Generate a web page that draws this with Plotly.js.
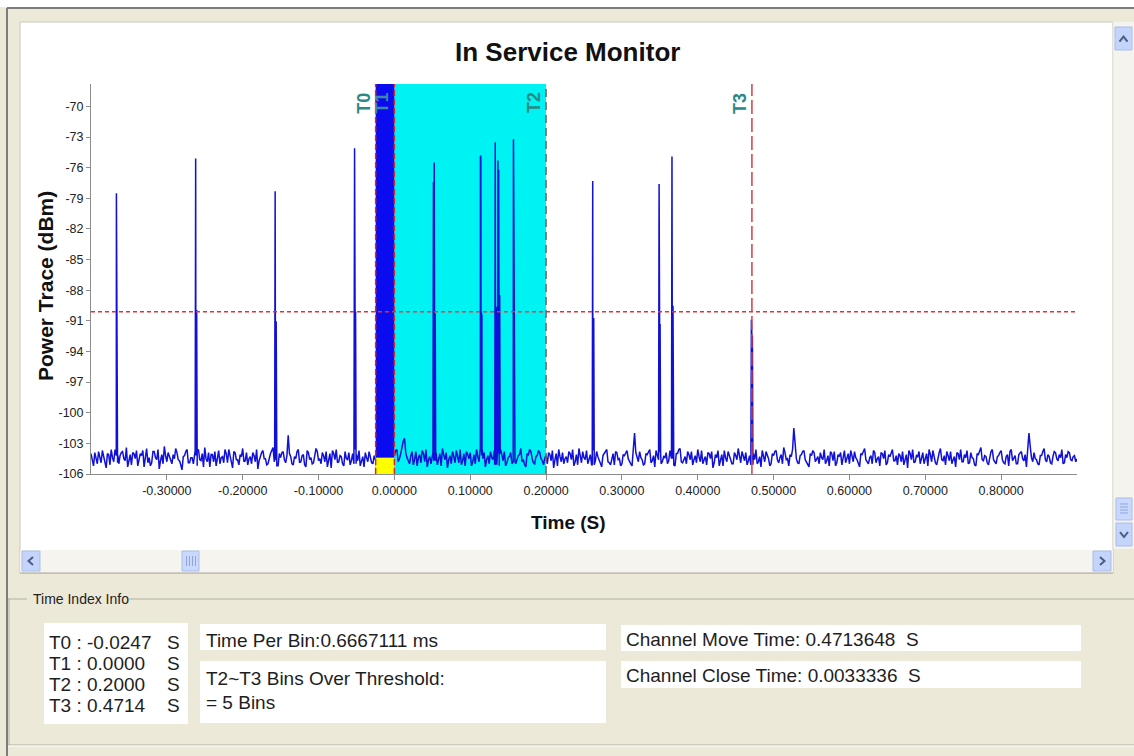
<!DOCTYPE html>
<html><head><meta charset="utf-8">
<script src="https://cdn.plot.ly/plotly-3.0.1.min.js"></script>
<style>html,body{margin:0;padding:0;background:#ece9d8;overflow:hidden}</style>
</head><body><div id="chart" style="width:1134px;height:756px"></div>
<script>
// ---------------- data ----------------
const binTime = 0.0006667111;          // s per bin
const noiseStart = -0.4;               // s
const noiseStep = 0.0033333;           // s between noise samples (5 bins)
const noiseDbm = [
-104.0,-105.2,-104.6,-103.8,-104.9,-104.3,-105.4,-104.1,-103.6,-104.8,-104.2,-105.0,-103.9,-104.5,-103.4,-104.7,-105.1,-104.0,-103.7,-104.6,
-104.2,-105.3,-103.5,-104.4,-104.9,-103.8,-104.6,-105.5,-104.1,-103.3,-104.8,-104.3,-105.0,-104.5,-103.9,-104.7,-105.6,-104.2,-103.6,-104.9,
-104.4,-103.7,-105.2,-104.6,-104.0,-103.4,-104.8,-105.3,-104.1,-103.8,-104.5,-105.0,-104.3,-103.6,-104.9,-104.2,-105.4,-103.9,-104.6,-104.1,
-103.5,-104.7,-105.1,-104.3,-103.9,-104.8,-105.5,-104.2,-103.7,-104.5,-105.0,-104.0,-103.4,-104.6,-105.2,-104.4,-103.8,-104.9,-102.2,-104.3,
-105.1,-104.5,-103.6,-104.8,-104.1,-105.3,-103.9,-104.4,-104.9,-103.5,-104.7,-105.0,-104.2,-103.8,-104.6,-105.4,-104.0,-103.6,-104.8,-104.3,
-105.2,-104.5,-103.9,-104.7,-105.0,-104.1,-103.7,-104.6,-105.3,-104.4,-103.8,-104.9,-104.2,-104.6,-104.9,-104.3,-104.7,-104.1,-104.8,-104.4,
-104.2,-103.6,-104.5,-103.2,-102.5,-104.4,-105.0,-103.8,-104.6,-105.2,-104.1,-103.7,-104.8,-105.3,-104.3,-103.9,-104.7,-105.1,-104.0,-103.5,
-104.6,-105.4,-104.2,-103.8,-104.9,-104.4,-103.6,-104.7,-105.2,-104.1,-103.9,-104.8,-105.0,-104.3,-103.7,-104.5,-105.3,-104.2,-103.8,-104.6,
-105.1,-104.0,-103.6,-104.7,-105.2,-104.4,-103.9,-104.8,-105.0,-104.2,-103.5,-104.6,-105.3,-104.1,-103.8,-104.9,-104.3,-103.7,-104.5,-105.1,
-104.2,-103.9,-104.7,-105.4,-104.0,-103.6,-104.8,-105.0,-104.3,-103.8,-104.6,-105.2,-104.1,-103.5,-104.9,-104.4,-103.7,-104.6,-105.1,-104.2,
-103.8,-104.7,-105.3,-104.0,-103.6,-104.9,-104.4,-105.1,-103.9,-104.5,-105.0,-104.2,-103.7,-104.8,-105.2,-102.0,-104.3,-103.8,-104.6,-105.0,
-104.1,-103.6,-104.7,-105.3,-104.2,-103.9,-104.8,-104.4,-105.0,-103.7,-104.5,-105.2,-104.0,-103.5,-104.9,-104.3,-103.8,-104.6,-105.1,-104.2,
-103.6,-104.8,-105.0,-104.3,-103.9,-104.5,-105.4,-104.1,-103.7,-104.7,-105.2,-104.4,-103.8,-104.6,-105.0,-104.2,-103.5,-104.9,-104.3,-103.9,
-104.7,-105.1,-104.0,-103.6,-104.8,-105.3,-104.4,-103.8,-104.5,-105.0,-104.2,-103.7,-104.9,-104.1,-103.4,-104.6,-105.2,-104.3,-101.5,-104.5,
-105.0,-104.1,-103.7,-104.8,-105.3,-104.2,-103.9,-104.6,-105.0,-104.4,-103.6,-104.7,-105.2,-104.0,-103.8,-104.9,-104.3,-105.1,-103.7,-104.5,
-105.0,-104.2,-103.8,-104.6,-105.3,-104.1,-103.5,-104.8,-104.4,-105.0,-103.9,-104.5,-105.2,-104.0,-103.7,-104.9,-104.3,-103.6,-104.7,-105.1,
-104.2,-103.8,-104.6,-105.4,-104.0,-103.6,-104.8,-104.3,-105.0,-103.9,-104.5,-105.2,-104.1,-103.7,-104.9,-104.4,-103.5,-104.7,-105.1,-104.2,
-103.8,-104.6,-105.3,-104.0,-103.6,-104.8,-104.4,-105.0,-103.9,-104.5,-105.2,-104.1,-103.4,-104.7,-104.3,-105.1,-103.8,-104.6,-105.0,-104.2,
-103.7,-104.9,-104.3,-105.2,-103.6,-104.5,-105.0,-104.1,-103.8,-104.7,-105.3,-102.0,-104.4,-103.9,-104.6,-105.1,-104.2,-103.5,-104.8,-104.3,
-105.0,-103.8,-104.5,-104.1,-103.6,-104.9,-104.4,-103.9,-104.7,-104.2,-104.5
];
// samples half-way between the ones above
const noiseDbmMid = [
-104.6,-103.9,-105.0,-104.3,-103.7,-104.8,-104.0,-105.1,-104.4,-103.6,-104.9,-104.2,-103.8,-104.7,-105.3,-104.1,-103.9,-104.5,-105.2,-104.0,
-103.7,-104.6,-104.9,-105.2,-103.8,-104.4,-103.6,-104.7,-105.0,-104.2,-103.9,-104.8,-104.1,-103.5,-104.6,-105.1,-104.3,-103.8,-104.9,-104.4,
-105.0,-104.2,-103.6,-104.7,-105.3,-104.5,-103.9,-104.1,-104.8,-105.2,-103.7,-104.4,-104.9,-104.0,-103.6,-104.7,-103.8,-104.6,-105.1,-104.3,
-104.8,-103.9,-104.5,-105.0,-104.2,-103.6,-104.7,-103.9,-104.5,-105.1,-104.3,-103.7,-104.8,-105.2,-104.0,-103.9,-104.6,-104.2,-104.0,-105.0,
-104.3,-103.8,-104.9,-104.2,-105.1,-103.7,-104.6,-105.0,-104.1,-103.8,-104.5,-103.9,-104.8,-105.3,-104.0,-103.7,-104.6,-104.9,-104.2,-105.0,
-103.8,-104.6,-105.1,-104.0,-103.6,-104.7,-105.2,-104.3,-103.9,-104.8,-104.4,-105.0,-104.6,-104.4,-104.7,-104.5,-104.2,-104.6,-104.5,-104.0,
-103.7,-104.8,-104.0,-102.8,-103.9,-104.7,-104.2,-105.1,-103.8,-104.4,-104.9,-104.0,-103.6,-104.6,-105.0,-104.2,-103.9,-104.4,-105.2,-104.1,
-103.9,-104.6,-105.0,-104.3,-103.7,-104.9,-105.1,-104.0,-103.8,-104.5,-105.2,-104.1,-103.6,-104.8,-104.2,-103.9,-104.6,-105.0,-104.4,-103.7,
-104.5,-105.2,-104.1,-103.8,-104.9,-104.3,-105.0,-103.7,-104.6,-104.1,-104.8,-105.1,-104.0,-103.6,-104.5,-105.0,-104.2,-103.9,-104.7,-104.4,
-105.0,-104.1,-103.7,-104.6,-105.2,-104.3,-103.9,-104.5,-104.9,-104.0,-103.6,-104.8,-105.1,-104.2,-103.8,-104.6,-105.0,-104.1,-103.7,-104.7,
-104.3,-105.0,-104.2,-103.7,-104.8,-105.1,-104.0,-103.8,-104.6,-105.2,-104.1,-103.9,-104.5,-105.0,-103.6,-103.9,-104.8,-104.4,-105.1,-104.0,
-103.8,-104.9,-104.2,-103.7,-104.6,-105.0,-104.3,-103.9,-104.7,-104.2,-105.1,-104.0,-103.6,-104.8,-104.5,-105.0,-104.1,-103.8,-104.6,-104.9,
-104.3,-103.7,-104.6,-105.1,-104.0,-103.8,-104.9,-104.4,-105.2,-104.1,-103.7,-104.8,-104.3,-105.0,-103.9,-104.6,-104.2,-103.8,-104.7,-105.1,
-104.2,-103.9,-104.6,-105.0,-104.3,-103.7,-104.8,-104.1,-105.2,-104.0,-103.8,-104.6,-104.4,-105.0,-103.9,-104.5,-104.1,-103.6,-103.0,-104.9,
-104.2,-103.8,-104.6,-105.1,-104.0,-103.7,-104.8,-104.3,-103.9,-104.6,-105.0,-104.2,-103.8,-104.7,-105.2,-104.1,-103.9,-104.5,-104.9,-104.0,
-103.7,-104.8,-104.4,-105.1,-104.0,-103.8,-104.6,-105.0,-104.2,-103.7,-104.9,-104.3,-103.9,-104.5,-105.1,-104.1,-103.8,-104.7,-104.2,-104.0,
-104.8,-105.1,-104.1,-103.7,-104.6,-104.9,-104.2,-103.8,-104.5,-105.0,-104.0,-103.6,-104.8,-104.4,-105.1,-103.9,-104.6,-104.2,-103.8,-104.7,
-105.0,-104.3,-103.9,-104.6,-104.8,-104.1,-103.7,-104.9,-104.4,-105.1,-104.0,-103.8,-104.6,-104.2,-104.9,-104.4,-103.6,-104.8,-104.3,-103.9,
-104.6,-105.0,-104.1,-103.8,-104.7,-104.2,-105.0,-103.9,-104.5,-104.1,-103.6,-103.3,-104.8,-104.5,-105.0,-104.2,-103.8,-104.6,-104.1,-104.9,
-104.3,-103.9,-104.7,-104.4,-105.0,-104.1,-103.8,-104.6,-104.3,-104.8
];
const spikeTime     = [-0.3665,-0.2620,-0.1572,-0.0525, 0.0515, 0.0525, 0.1135, 0.1140, 0.1330, 0.1365, 0.1375, 0.1570, 0.2615, 0.3490, 0.3660, 0.4707];
const spikePeak     = [-78.5,  -75.1,  -78.3,  -74.1,  -77.4,  -75.5,  -74.8,  -75.0,  -73.5,  -75.3,  -76.2,  -73.2,  -77.3,  -77.6,  -74.9,  -90.9];
const spikeShoulder = [-91.7,  -90.0,  -91.1,  -90.1,  -90.8,  -90.3,  -90.2,  -90.4,  -89.7,  -88.3,  -88.5,  -88.6,  -90.8,  -91.3,  -89.6,  -92.5];
const markerNames = ['T0','T1','T2','T3'];
const markerTimes = [-0.0247, 0.0, 0.2, 0.4714];
const threshold = -90.1;
const yTicks = [-70,-73,-76,-79,-82,-85,-88,-91,-94,-97,-100,-103,-106];
const xTicks = [-0.3,-0.2,-0.1,0.0,0.1,0.2,0.3,0.4,0.5,0.6,0.7,0.8];
const infoLabels = ['T0 : -0.0247','T1 : 0.0000','T2 : 0.2000','T3 : 0.4714'];
const infoUnit = 'S';
const binText = 'Time Per Bin:0.6667111 ms';
const overText = ['T2~T3 Bins Over Threshold:', '= 5 Bins'];
const channelText = ['Channel Move Time: 0.4713648\u00a0\u00a0S', 'Channel Close Time: 0.0033336\u00a0\u00a0S'];

// ---------------- build trace ----------------
const pts = [];
noiseDbm.forEach((v, i) => pts.push({t: noiseStart + i * noiseStep, v: v}));
noiseDbmMid.forEach((v, i) => pts.push({t: noiseStart + (i + 0.5) * noiseStep, v: v}));
spikeTime.forEach((t, k) => {
  const i = Math.min(noiseDbm.length - 1, Math.round((t - noiseStart) / noiseStep));
  const base = noiseDbm[i];
  pts.push({t: t - binTime, v: base});
  pts.push({t: t, v: spikePeak[k]});
  pts.push({t: t + binTime, v: spikeShoulder[k]});
  pts.push({t: t + 2 * binTime, v: spikeShoulder[k]});
  pts.push({t: t + 3 * binTime, v: base});
});
pts.sort((a, b) => a.t - b.t);

// ---------------- geometry helpers ----------------
const W = 1134, H = 756, L = 91, R = 1077, T = 84, B = 474;
const px = x => (x - L) / (R - L);
const py = y => (B - y) / (B - T);
const Y0 = -106, Y1 = -67.8;
const FONT = 'Liberation Sans, Arial, sans-serif';

const shapes = [];
function rectP(x0, y0, x1, y1, fill, line, lw) {
  shapes.push({type: 'rect', xref: 'paper', yref: 'paper', layer: 'below',
    x0: px(x0), x1: px(x1), y0: py(y1), y1: py(y0), fillcolor: fill,
    line: {color: line || 'rgba(0,0,0,0)', width: lw || (line ? 1 : 0)}});
}
function lineP(x0, y0, x1, y1, color, w) {
  shapes.push({type: 'line', xref: 'paper', yref: 'paper', layer: 'below',
    x0: px(x0), x1: px(x1), y0: py(y0), y1: py(y1), line: {color: color, width: w || 1}});
}
function pathP(p, color, w) {
  const d = p.map((q, i) => (i ? 'L' : 'M') + px(q[0]).toFixed(5) + ',' + py(q[1]).toFixed(5)).join(' ');
  shapes.push({type: 'path', xref: 'paper', yref: 'paper', layer: 'below', path: d,
    line: {color: color, width: w || 2}});
}

// window chrome
rectP(0, 0, 1134, 7, '#ffffff');
lineP(7, 8, 1134, 8, '#7c7c7c', 2);
lineP(7, 8, 7, 756, '#7c7c7c', 2);
rectP(20, 22, 1113, 573, '#ffffff', '#c9c7b9', 1);
// vertical scrollbar
rectP(1113, 22, 1134, 549, '#f4f3ee');
lineP(1113, 22, 1113, 549, '#e3e1d6', 1);
rectP(1115, 27, 1132, 50, '#c4d4fb', '#aabde9', 1);
pathP([[1119.5, 41.5], [1123.5, 36.5], [1127.5, 41.5]], '#4a5d86', 2);
rectP(1116, 498, 1132, 520, '#c9d8fc', '#aabde9', 1);
[504, 507, 510, 513].forEach(y => lineP(1120, y, 1128, y, '#8fa6dc', 1));
rectP(1116, 523, 1132, 546, '#c4d4fb', '#aabde9', 1);
pathP([[1120, 532], [1124, 537], [1128, 532]], '#4a5d86', 2);
// horizontal scrollbar
rectP(20, 550, 1113, 573, '#f5f4ef');
lineP(20, 573, 1113, 573, '#a9a79a', 1);
rectP(22, 551, 40, 571, '#c4d4fb', '#aabde9', 1);
pathP([[33, 557], [28.5, 561], [33, 565]], '#4a5d86', 2);
rectP(182, 551, 199, 571, '#c9d8fc', '#aabde9', 1);
[187, 190, 193, 196].forEach(x => lineP(x - 0.5, 556, x - 0.5, 566, '#8fa6dc', 1));
rectP(1093, 551, 1111, 571, '#c4d4fb', '#aabde9', 1);
pathP([[1100, 557], [1104.5, 561], [1100, 565]], '#4a5d86', 2);
// group box
lineP(8, 599, 27, 599, '#b1af9f', 1);
lineP(129, 599, 1134, 599, '#b1af9f', 1);
lineP(9, 599, 9, 745, '#b1af9f', 1);
lineP(8, 745, 1134, 745, '#b1af9f', 1);
lineP(8, 746, 1134, 746, '#ffffff', 1);
// white text boxes
rectP(44, 623, 188, 724, '#ffffff');
rectP(200, 624, 606, 650, '#ffffff');
rectP(200, 661, 606, 723, '#ffffff');
rectP(621, 625, 1081, 651, '#ffffff');
rectP(621, 661, 1081, 688, '#ffffff');

// data-area shapes
const [t0, t1, t2, t3] = markerTimes;
shapes.push({type: 'rect', xref: 'x', yref: 'y', layer: 'below', x0: t1, x1: t2, y0: Y0, y1: Y1,
  fillcolor: '#00f3f3', line: {width: 0}});
shapes.push({type: 'rect', xref: 'x', yref: 'y', layer: 'above', x0: t0, x1: t1, y0: Y0, y1: Y1,
  fillcolor: '#0b0bef', line: {width: 0}});
shapes.push({type: 'rect', xref: 'x', yref: 'y', layer: 'above', x0: t0, x1: t1, y0: Y0, y1: -104.4,
  fillcolor: '#ffff00', line: {width: 0}});
shapes.push({type: 'line', xref: 'x', yref: 'y', layer: 'above', x0: t0, x1: t0, y0: Y0, y1: Y1,
  line: {color: '#d42a2a', width: 1.5, dash: '6px,3px'}});
shapes.push({type: 'line', xref: 'x', yref: 'y', layer: 'above', x0: t1, x1: t1, y0: Y0, y1: Y1,
  line: {color: '#d42a2a', width: 1.5, dash: '6px,3px'}});
shapes.push({type: 'line', xref: 'x', yref: 'y', layer: 'above', x0: t2, x1: t2, y0: Y0, y1: Y1,
  line: {color: '#7d6060', width: 1.5, dash: '8px,5px'}});
shapes.push({type: 'line', xref: 'x', yref: 'y', layer: 'above', x0: t3, x1: t3, y0: Y0, y1: Y1,
  line: {color: '#d24040', width: 1.5, dash: '14px,4px'}});
shapes.push({type: 'line', xref: 'x', yref: 'y', layer: 'above', x0: -0.4, x1: 0.9, y0: threshold, y1: threshold,
  line: {color: '#e03434', width: 1.5, dash: '4px,3px'}});

// ---------------- annotations ----------------
const ann = [];
function textP(x, y, text, size, opts) {
  ann.push(Object.assign({xref: 'paper', yref: 'paper', x: px(x), y: py(y), text: text, showarrow: false,
    xanchor: 'left', yanchor: 'middle', font: {family: FONT, size: size, color: '#1e1e1e'}}, opts || {}));
}
textP(567, 52, '<b>In Service Monitor</b>', 26, {xanchor: 'center', font: {family: FONT, size: 26, color: '#111'}});
textP(45, 286, '<b>Power Trace (dBm)</b>', 21, {xanchor: 'center', textangle: -90, font: {family: FONT, size: 21, color: '#111'}});
textP(568, 522, '<b>Time (S)</b>', 19, {xanchor: 'center', font: {family: FONT, size: 19, color: '#111'}});
markerNames.forEach((n, i) => ann.push({xref: 'x', yref: 'paper', x: markerTimes[i], y: py(103), xshift: -12,
  text: '<b>' + n + '</b>', showarrow: false, textangle: -90, xanchor: 'center', yanchor: 'middle',
  font: {family: FONT, size: 18, color: i === 1 ? '#3f86a8' : '#2b8a85'}}));
textP(31, 599, 'Time Index Info', 14, {font: {family: FONT, size: 14, color: '#222'}});
infoLabels.forEach((s, i) => {
  textP(47, 642 + i * 21, s, 19);
  textP(182, 642 + i * 21, infoUnit, 19, {xanchor: 'right'});
});
textP(204, 640, binText, 19);
textP(204, 678, overText[0], 19);
textP(204, 702, overText[1], 19);
textP(624, 639, channelText[0], 19);
textP(624, 675, channelText[1], 19);

// ---------------- plot ----------------
const trace = {
  x: pts.map(p => p.t), y: pts.map(p => p.v), type: 'scatter', mode: 'lines',
  line: {color: '#1010d8', width: 1.5}, hoverinfo: 'skip'
};
const layout = {
  width: W, height: H, autosize: false,
  margin: {l: L, r: W - R, t: T, b: H - B, pad: 0},
  paper_bgcolor: '#ece9d8', plot_bgcolor: '#ffffff', showlegend: false,
  xaxis: {range: [-0.4, 0.9], tickvals: xTicks, ticktext: xTicks.map(v => v.toFixed(5)),
    showgrid: false, zeroline: false, showline: true, linecolor: '#8c8c8c', linewidth: 1,
    ticks: 'outside', ticklen: 5, tickcolor: '#8c8c8c',
    tickfont: {family: FONT, size: 12.5, color: '#222'}, fixedrange: true},
  yaxis: {range: [Y0, Y1], tickvals: yTicks, ticktext: yTicks.map(v => String(v)),
    showgrid: false, zeroline: false, showline: true, linecolor: '#8c8c8c', linewidth: 1,
    ticks: 'outside', ticklen: 4, tickcolor: '#8c8c8c',
    tickfont: {family: FONT, size: 12.5, color: '#222'}, fixedrange: true},
  shapes: shapes, annotations: ann
};
Plotly.newPlot('chart', [trace], layout, {staticPlot: true, displayModeBar: false});
</script></body></html>
